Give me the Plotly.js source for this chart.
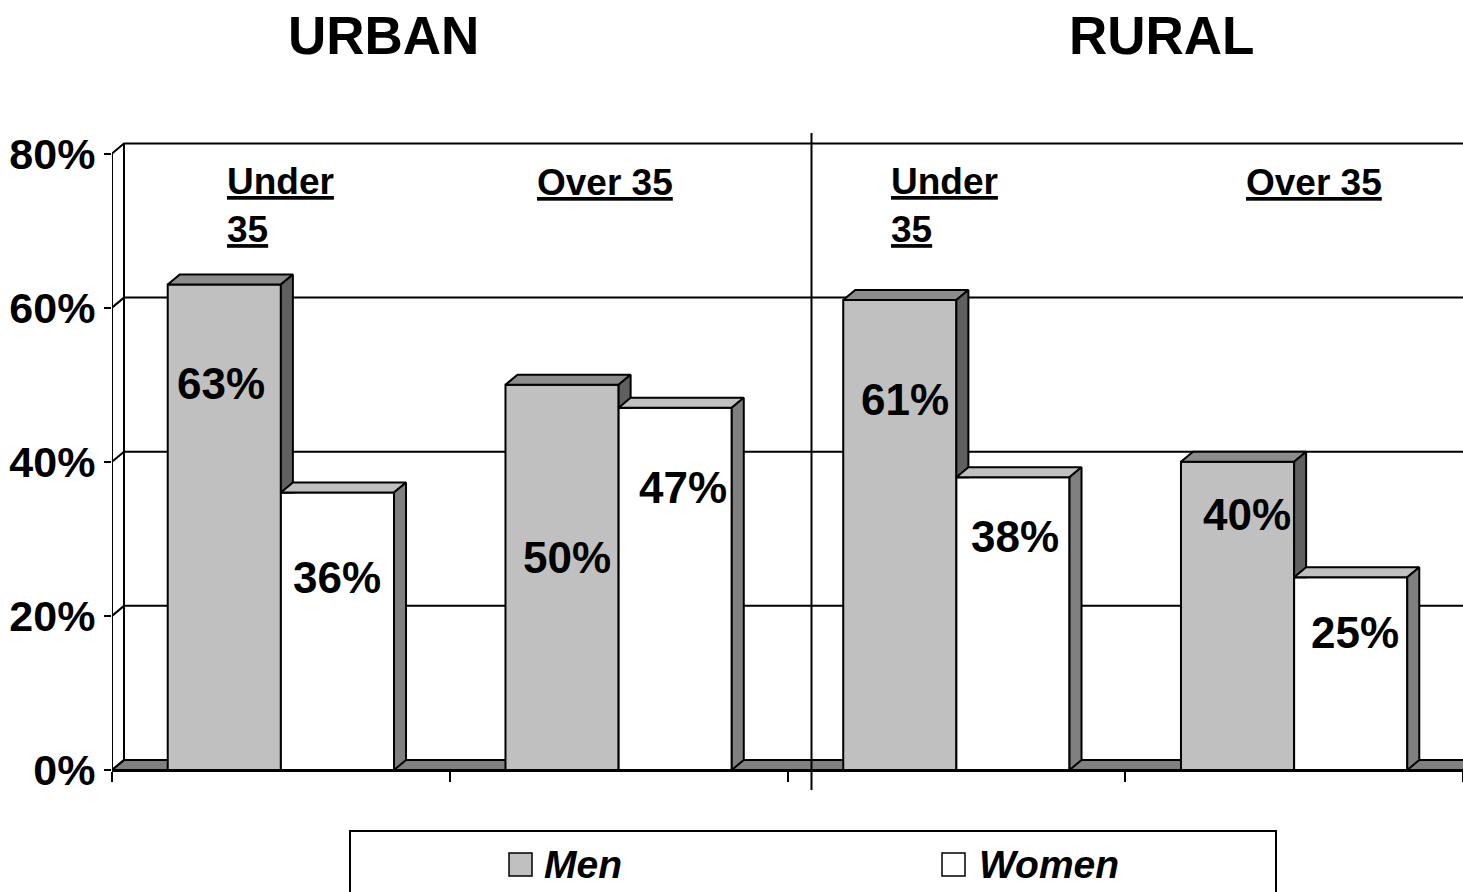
<!DOCTYPE html>
<html>
<head>
<meta charset="utf-8">
<script src="https://cdn.plot.ly/plotly-3.0.1.min.js"></script>
<style>html,body{margin:0;padding:0;background:#fff;}#chart{width:1463px;height:892px;}</style>
</head>
<body>
<div id="chart"></div>
<script>
// ---- data ----
const regions = ['URBAN', 'RURAL'];
const ageGroups = ['Under 35', 'Over 35', 'Under 35', 'Over 35'];
const seriesNames = ['Men', 'Women'];
const men = [63, 50, 61, 40];
const women = [36, 47, 38, 25];
const yTickVals = [0, 20, 40, 60, 80];
const yTickText = ['0%', '20%', '40%', '60%', '80%'];

// ---- layout constants ----
const FONT = 'Liberation Sans, Arial, sans-serif';
const W = 1463, H = 892;
const M = {l: 112, r: 0, t: 133, b: 122};
const plotW = W - M.l - M.r, plotH = H - M.t - M.b;
const XMAX = 4;
const YMAX = 82.66;
const pxX = plotW / XMAX, pxY = plotH / YMAX;
const DX = 12 / pxX;      // 3D depth offset (x units)
const DY = 10 / pxY;      // 3D depth offset (y units)
const BW = 0.335;         // bar width
const C = {menFront: '#c0c0c0', menTop: '#8c8c8c', menSide: '#606060',
           womenFront: '#ffffff', womenTop: '#c0c0c0', womenSide: '#808080', floor: '#808080'};

// value label anchor positions [x, y] in data units (hand placed as in the original)
const menLabelPos = [[0.323, 50.2], [1.347, 27.6], [2.348, 48.1], [3.361, 33.2]];
const womenLabelPos = [[0.666, 25.0], [1.691, 36.7], [2.674, 30.3], [3.680, 17.9]];
const agePos = [[0.334, 73.2], [1.252, 76.2], [2.300, 73.2], [3.351, 76.2]];
const regionPos = [0.2006, 0.7772];

const menX = men.map((v, i) => i + 0.5 - BW / 2);
const womenX = women.map((v, i) => i + 0.5 + BW / 2);

const traces = [
  {type: 'bar', name: seriesNames[0], x: menX, y: men, width: BW,
   marker: {color: C.menFront, line: {color: '#000', width: 2}}, hoverinfo: 'skip', showlegend: false},
  {type: 'bar', name: seriesNames[1], x: womenX, y: women, width: BW,
   marker: {color: C.womenFront, line: {color: '#000', width: 2}}, hoverinfo: 'skip', showlegend: false}
];

function face(pts, color) {
  const xs = pts.map(p => p[0]); const ys = pts.map(p => p[1]);
  xs.push(pts[0][0]); ys.push(pts[0][1]);
  return {type: 'scatter', mode: 'lines', x: xs, y: ys, fill: 'toself', fillcolor: color,
          line: {color: '#000', width: 2}, hoverinfo: 'skip', showlegend: false};
}

men.forEach((vm, i) => {
  const vw = women[i];
  const ml = menX[i] - BW / 2, mr = ml + BW;
  const wl = womenX[i] - BW / 2, wr = wl + BW;
  // men top
  traces.push(face([[ml, vm], [mr, vm], [mr + DX, vm + DY], [ml + DX, vm + DY]], C.menTop));
  // men side (part not hidden by the women bar in front)
  if (vw < vm + DY) {
    traces.push(face([[mr, Math.max(vw, 0)], [mr + DX, Math.max(vw, DY)], [mr + DX, vm + DY], [mr, vm]], C.menSide));
  }
  // women top
  traces.push(face([[wl, vw], [wr, vw], [wr + DX, vw + DY], [wl + DX, vw + DY]], C.womenTop));
  // women side
  traces.push(face([[wr, 0], [wr + DX, DY], [wr + DX, vw + DY], [wr, vw]], C.womenSide));
});

// walls, floor, gridlines
const shapes = [];
shapes.push({type: 'path', xref: 'x', yref: 'y', layer: 'below',
  path: `M0,0 L${XMAX},0 L${XMAX + DX},${DY} L${DX},${DY} Z`,
  fillcolor: C.floor, line: {color: '#000', width: 2}});
yTickVals.forEach(t => {
  shapes.push({type: 'path', xref: 'x', yref: 'y', layer: 'below',
    path: `M0,${t} L${DX},${t + DY} L${XMAX + DX},${t + DY}`, line: {color: '#000', width: 2}});
});
const yTop = yTickVals[yTickVals.length - 1];
shapes.push({type: 'line', xref: 'x', yref: 'y', layer: 'below', x0: 0, x1: 0, y0: 0, y1: yTop, line: {color: '#000', width: 2}});
shapes.push({type: 'line', xref: 'x', yref: 'y', layer: 'below', x0: DX, x1: DX, y0: DY, y1: yTop + DY, line: {color: '#000', width: 2}});
// divider between urban and rural
shapes.push({type: 'line', xref: 'paper', yref: 'paper', x0: (2 + 2 * DX) / XMAX, x1: (2 + 2 * DX) / XMAX,
  y0: -20 / plotH, y1: 1, line: {color: '#000', width: 2}});

// legend (drawn by hand, as in the original slide)
const px = v => (v - M.l) / plotW;
const py = v => (H - M.b - v) / plotH;
shapes.push({type: 'rect', xref: 'paper', yref: 'paper', x0: px(350), x1: px(1276), y0: py(831), y1: py(910),
  fillcolor: '#fff', line: {color: '#000', width: 2}});
shapes.push({type: 'rect', xref: 'paper', yref: 'paper', x0: px(509), x1: px(532), y0: py(853), y1: py(876),
  fillcolor: C.menFront, line: {color: '#000', width: 1.5}});
shapes.push({type: 'rect', xref: 'paper', yref: 'paper', x0: px(942), x1: px(965), y0: py(853), y1: py(876),
  fillcolor: C.womenFront, line: {color: '#000', width: 1.5}});

const annotations = [];
regions.forEach((r, i) => annotations.push({xref: 'paper', yref: 'paper', x: regionPos[i], y: py(35),
  text: r, showarrow: false, xanchor: 'center', yanchor: 'middle',
  font: {family: FONT, size: 53, color: '#000', weight: 'bold'}}));
ageGroups.forEach((g, i) => {
  const parts = g.split(' ');
  const txt = (i % 2 === 0)
    ? parts.map(p => `<span style="text-decoration:underline">${p}</span>`).join('<br>')
    : `<span style="text-decoration:underline">${g}</span>`;
  annotations.push({xref: 'x', yref: 'y', x: agePos[i][0], y: agePos[i][1], text: txt, showarrow: false,
    xanchor: 'left', yanchor: 'middle', align: 'left',
    font: {family: FONT, size: 37, color: '#000', weight: 'bold'}});
});
men.forEach((v, i) => annotations.push({xref: 'x', yref: 'y', x: menLabelPos[i][0], y: menLabelPos[i][1],
  text: v + '%', showarrow: false, font: {family: FONT, size: 44, color: '#000', weight: 'bold'}}));
women.forEach((v, i) => annotations.push({xref: 'x', yref: 'y', x: womenLabelPos[i][0], y: womenLabelPos[i][1],
  text: v + '%', showarrow: false, font: {family: FONT, size: 44, color: '#000', weight: 'bold'}}));
annotations.push({xref: 'paper', yref: 'paper', x: px(542), y: py(864), text: seriesNames[0], showarrow: false,
  xanchor: 'left', yanchor: 'middle', font: {family: FONT, size: 39, color: '#000', weight: 'bold', style: 'italic'}});
annotations.push({xref: 'paper', yref: 'paper', x: px(977), y: py(864), text: seriesNames[1], showarrow: false,
  xanchor: 'left', yanchor: 'middle', font: {family: FONT, size: 39, color: '#000', weight: 'bold', style: 'italic'}});

const layout = {
  width: W, height: H, margin: M,
  paper_bgcolor: '#fff', plot_bgcolor: '#fff',
  barmode: 'overlay', showlegend: false,
  font: {family: FONT, color: '#000'},
  xaxis: {range: [0, XMAX], tickvals: [0, 1, 2, 3, 4], ticks: 'outside', ticklen: 10, tickwidth: 2, tickcolor: '#000',
          showticklabels: false, showline: true, linewidth: 2, linecolor: '#000', showgrid: false, zeroline: false, fixedrange: true},
  yaxis: {range: [0, YMAX], tickvals: yTickVals, ticktext: yTickText, ticks: 'outside', ticklen: 7, tickwidth: 2, tickcolor: '#000',
          showline: false, showgrid: false, zeroline: false, fixedrange: true,
          tickfont: {family: FONT, size: 43, color: '#000', weight: 'bold'}},
  shapes: shapes, annotations: annotations
};

Plotly.newPlot('chart', traces, layout, {staticPlot: true, displayModeBar: false});
</script>
</body>
</html>
